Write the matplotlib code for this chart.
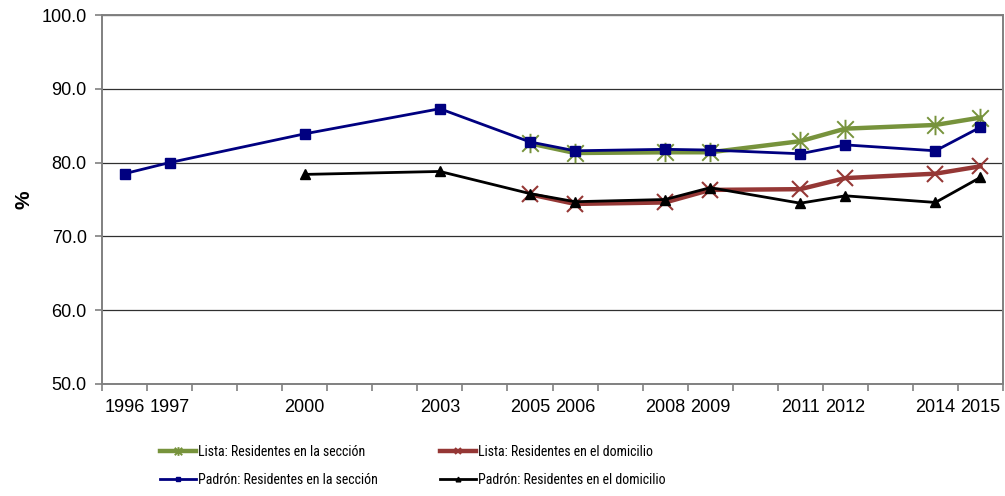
import numpy as np
import matplotlib.pyplot as plt
from matplotlib import font_manager
from matplotlib.path import Path
from matplotlib.ticker import FixedLocator

plt.rcParams['font.family'] = ['Liberation Sans', 'DejaVu Sans']

years = [1996, 1997, 2000, 2003, 2005, 2006, 2008, 2009, 2011, 2012, 2014, 2015]
nan = np.nan
lista_seccion = [nan, nan, nan, nan, 82.6, 81.3, 81.4, 81.4, 82.9, 84.6, 85.1, 86.1]
lista_domicilio = [nan, nan, nan, nan, 75.7, 74.4, 74.6, 76.3, 76.4, 77.9, 78.5, 79.5]
padron_seccion = [78.5, 80.0, 83.9, 87.3, 82.8, 81.6, 81.8, 81.7, 81.2, 82.4, 81.6, 84.8]
padron_domicilio = [nan, nan, 78.4, 78.8, 75.8, 74.7, 75.0, 76.6, 74.5, 75.5, 74.6, 78.0]

# the legend text in the original is a narrow face; use one if it is installed
installed = {f.name for f in font_manager.fontManager.ttflist}
legend_font = {'family': 'Liberation Sans', 'size': 9.0}
for name in ['Liberation Sans Narrow', 'Arial Narrow', 'Roboto Condensed',
             'DejaVu Sans Condensed', 'Open Sans Condensed']:
    if name in installed:
        legend_font = {'family': name, 'size': 10.0}
        break

# asterisk marker like Excel's "star" (vertical bar + x)
star = Path([(0, -1), (0, 1), (-0.85, -0.85), (0.85, 0.85), (-0.85, 0.85), (0.85, -0.85)],
            [Path.MOVETO, Path.LINETO] * 3)

fig = plt.figure(figsize=(10.05, 4.96), dpi=100)
ax = fig.add_axes([102 / 1005, 1 - 384 / 496, 901 / 1005, 369 / 496])

ax.plot(years, lista_seccion, color='#77933C', lw=3.2, marker=star, ms=14,
        mfc='none', mec='#77933C', mew=1.4, label='Lista: Residentes en la sección', zorder=3)
ax.plot(years, lista_domicilio, color='#953735', lw=3.2, marker='x', ms=11,
        mec='#953735', mew=1.5, label='Lista: Residentes en el domicilio', zorder=3)
ax.plot(years, padron_seccion, color='#000080', lw=2, marker='s', ms=7.2,
        label='Padrón: Residentes en la sección', zorder=4)
ax.plot(years, padron_domicilio, color='black', lw=2, marker='^', ms=7.5,
        label='Padrón: Residentes en el domicilio', zorder=4)

ax.set_xlim(1995.5, 2015.5)
ax.set_ylim(50, 100)
ax.set_yticks(np.arange(50, 101, 10))
ax.set_yticklabels([f'{v:.1f}' for v in np.arange(50, 101, 10)], fontsize=13)
ax.set_xticks(years)
ax.set_xticklabels([str(y) for y in years], fontsize=13)
ax.xaxis.set_minor_locator(FixedLocator(np.arange(1995.5, 2016, 1)))
ax.tick_params(axis='x', which='major', length=0, pad=11)
ax.tick_params(axis='x', which='minor', length=5, color='#808080', width=1.2)
ax.tick_params(axis='y', length=5, color='#808080', width=1.2, pad=6)
ax.yaxis.grid(True, color='#303030', lw=0.9)
ax.set_axisbelow(True)
for s in ax.spines.values():
    s.set_color('#808080')
    s.set_linewidth(1.4)
ax.set_ylabel('%', fontsize=15, fontweight='bold', labelpad=6)

handles, labels = ax.get_legend_handles_labels()
order = [0, 2, 1, 3]
leg = fig.legend([handles[i] for i in order], [labels[i] for i in order], ncol=2,
                 loc='center left', bbox_to_anchor=(160 / 1005, 1 - 466 / 496), frameon=False,
                 prop=legend_font, handlelength=2.6, markerscale=0.45,
                 labelspacing=1.05, handletextpad=0.12, borderpad=0, borderaxespad=0,
                 columnspacing=0)

# second legend column starts at x=440 px like the original
renderer = fig.canvas.get_renderer()
cols = leg._legend_handle_box.get_children()
w0 = cols[0].get_window_extent(renderer).width
leg._legend_handle_box.sep = (280 - w0) * 72 / fig.dpi

fig.savefig('out.png', dpi=100)
